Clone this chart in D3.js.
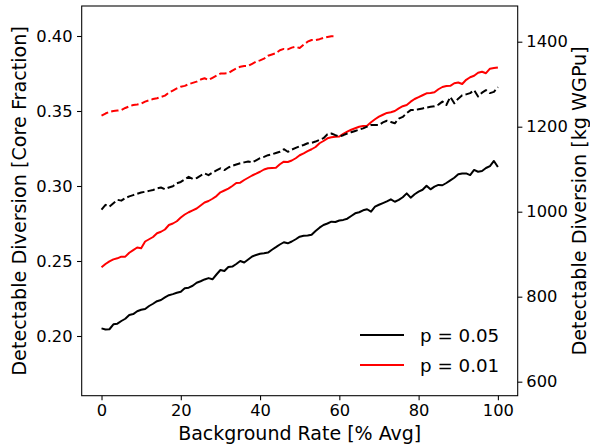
<!DOCTYPE html>
<html>
<head>
<meta charset="utf-8">
<script src="https://cdn.jsdelivr.net/npm/d3@7"></script>
<style>
  body { margin: 0; background: #fff; }
  svg { display: block; font-family: "DejaVu Sans", sans-serif; }
</style>
</head>
<body>
<div id="chart"></div>
<script>
// background rate, % of average
const bgRate = d3.range(0, 101);

// detectable diversion as core fraction (left axis)
const coreP05 = [
  .2051, .2043, .2045, .2078, .2082, .2100, .2115, .2140, .2146, .2165,
  .2175, .2180, .2200, .2215, .2232, .2240, .2258, .2272, .2279, .2288,
  .2295, .2318, .2322, .2335, .2355, .2365, .2377, .2386, .2378, .2410,
  .2440, .2433, .2460, .2463, .2480, .2500, .2490, .2510, .2530, .2540,
  .2548, .2551, .2556, .2575, .2592, .2610, .2625, .2618, .2630, .2645,
  .2662, .2668, .2670, .2675, .2700, .2722, .2740, .2750, .2762, .2760,
  .2770, .2774, .2782, .2800, .2818, .2825, .2838, .2845, .2829, .2862,
  .2875, .2886, .2897, .2911, .2895, .2907, .2925, .2951, .2922, .2945,
  .2962, .2975, .3002, .2978, .2996, .3007, .3005, .3020, .3038, .3055,
  .3078, .3084, .3084, .3073, .3107, .3095, .3100, .3120, .3133, .3167,
  .3127
];
const coreP01 = [
  .2458, .2480, .2498, .2511, .2518, .2529, .2529, .2555, .2573, .2590,
  .2585, .2630, .2645, .2660, .2685, .2695, .2710, .2740, .2750, .2765,
  .2790, .2810, .2825, .2838, .2850, .2870, .2890, .2900, .2915, .2933,
  .2958, .2970, .2982, .3000, .3020, .3022, .3040, .3055, .3070, .3082,
  .3095, .3110, .3118, .3120, .3122, .3145, .3162, .3160, .3170, .3185,
  .3205, .3218, .3232, .3245, .3260, .3285, .3300, .3318, .3325, .3329,
  .3330, .3348, .3362, .3375, .3385, .3395, .3400, .3402, .3425, .3445,
  .3462, .3475, .3487, .3492, .3500, .3518, .3532, .3540, .3562, .3580,
  .3592, .3605, .3618, .3620, .3625, .3645, .3660, .3667, .3668, .3685,
  .3690, .3680, .3708, .3725, .3735, .3755, .3762, .3752, .3782, .3786,
  .3790
];

// detectable diversion in kg WGPu (right axis)
const kgP05 = [
  1005, 1016, 1012, 1020, 1028, 1026, 1032, 1036, 1039, 1042,
  1045, 1047, 1049, 1051, 1055, 1057, 1053, 1057, 1060, 1067,
  1070, 1076, 1082, 1077, 1079, 1085, 1090, 1086, 1092, 1097,
  1102, 1098, 1104, 1108, 1111, 1114, 1116, 1118, 1116, 1121,
  1126, 1129, 1133, 1135, 1138, 1141, 1147, 1141, 1146, 1150,
  1154, 1157, 1161, 1162, 1165, 1169, 1173, 1182, 1184, 1180,
  1177, 1180, 1184, 1187, 1190, 1193, 1196, 1200, 1204, 1204,
  1204, 1210, 1214, 1211, 1208, 1219, 1223, 1232, 1239, 1239,
  1241, 1243, 1245, 1247, 1248, 1252, 1259, 1251, 1270, 1255,
  1266, 1274, 1276, 1279, 1286, 1271, 1280, 1286, 1279, 1282,
  1293
];
const kgP01 = [
  1226, 1231, 1235, 1237, 1238, 1239, 1244, 1248, 1251, 1252,
  1254, 1259, 1262, 1265, 1267, 1270, 1273, 1280, 1285, 1290,
  1294, 1296, 1300, 1303, 1306, 1311, 1314, 1310, 1315, 1320,
  1325, 1325, 1326, 1332, 1337, 1341, 1343, 1343, 1348, 1353,
  1356, 1360, 1367, 1370, 1373, 1380, 1383, 1382, 1386, 1388,
  1385, 1393, 1400, 1404, 1404, 1406, 1409, 1411, 1413, 1413
];

const xTicks = [0, 20, 40, 60, 80, 100];
const leftTicks = [0.20, 0.25, 0.30, 0.35, 0.40];
const rightTicks = [600, 800, 1000, 1200, 1400];
const legendLabels = ["p = 0.05", "p = 0.01"];

const width = 590, height = 445;
const margin = {top: 6, right: 72.3, bottom: 49.3, left: 81.7};
const iw = width - margin.left - margin.right;
const ih = height - margin.top - margin.bottom;

const svg = d3.select("#chart").append("svg")
    .attr("width", width)
    .attr("height", height);

const g = svg.append("g")
    .attr("transform", `translate(${margin.left},${margin.top})`);

const x = d3.scaleLinear().domain([-5, 105]).range([0, iw]);
const yL = d3.scaleLinear().domain([0.1602, 0.42]).range([ih, 0]);
const yR = d3.scaleLinear().domain([567, 1484]).range([ih, 0]);

// lines
const lineL = d3.line().x((d, i) => x(bgRate[i])).y(d => yL(d));
const lineR = d3.line().x((d, i) => x(bgRate[i])).y(d => yR(d));

const series = [
  {vals: coreP05, gen: lineL, color: "#000", dash: null},
  {vals: coreP01, gen: lineL, color: "#ff0000", dash: null},
  {vals: kgP05, gen: lineR, color: "#000", dash: "7.4,3.2"},
  {vals: kgP01, gen: lineR, color: "#ff0000", dash: "7.4,3.2"}
];

g.selectAll("path.series")
  .data(series)
  .join("path")
    .attr("class", "series")
    .attr("fill", "none")
    .attr("stroke", d => d.color)
    .attr("stroke-width", 2)
    .attr("stroke-linejoin", "round")
    .attr("stroke-dasharray", d => d.dash)
    .attr("d", d => d.gen(d.vals));

// axes
const tick = 4.67;
const xAxis = g.append("g")
    .attr("transform", `translate(0,${ih})`)
    .call(d3.axisBottom(x).tickValues(xTicks).tickFormat(d3.format("d"))
        .tickSize(tick).tickSizeOuter(0).tickPadding(4));
const leftAxis = g.append("g")
    .call(d3.axisLeft(yL).tickValues(leftTicks).tickFormat(d3.format(".2f"))
        .tickSize(tick).tickSizeOuter(0).tickPadding(4.5));
const rightAxis = g.append("g")
    .attr("transform", `translate(${iw},0)`)
    .call(d3.axisRight(yR).tickValues(rightTicks).tickFormat(d3.format("d"))
        .tickSize(tick).tickSizeOuter(0).tickPadding(4));

[xAxis, leftAxis, rightAxis].forEach(a => {
  a.selectAll("text").attr("font-size", 16.3).attr("fill", "#000")
    .attr("font-family", "DejaVu Sans, sans-serif");
  a.selectAll("line").attr("stroke", "#000").attr("stroke-width", 1.07);
  a.select(".domain").remove();
});

// frame
g.append("rect")
    .attr("width", iw).attr("height", ih)
    .attr("fill", "none").attr("stroke", "#000").attr("stroke-width", 1.07);

// axis labels
svg.append("text")
    .attr("x", margin.left + iw / 2).attr("y", 439.5)
    .attr("text-anchor", "middle").attr("font-size", 19)
    .text("Background Rate [% Avg]");

svg.append("text")
    .attr("transform", `translate(26,${margin.top + ih / 2}) rotate(-90)`)
    .attr("text-anchor", "middle").attr("font-size", 19.2)
    .text("Detectable Diversion [Core Fraction]");

svg.append("text")
    .attr("transform", `translate(585.5,${margin.top + ih / 2}) rotate(-90)`)
    .attr("text-anchor", "middle").attr("font-size", 19.2)
    .text("Detectable Diversion [kg WGPu]");

// legend
const legend = svg.append("g").attr("transform", "translate(360,335)");
const items = legend.selectAll("g")
  .data(legendLabels.map((t, i) => ({t, color: i === 0 ? "#000" : "#ff0000"})))
  .join("g")
    .attr("transform", (d, i) => `translate(0,${i * 30})`);
items.append("line")
    .attr("x1", 0).attr("x2", 44)
    .attr("stroke", d => d.color).attr("stroke-width", 2);
items.append("text")
    .attr("x", 60).attr("y", 6.7)
    .attr("font-size", 18.3)
    .text(d => d.t);
</script>
</body>
</html>
